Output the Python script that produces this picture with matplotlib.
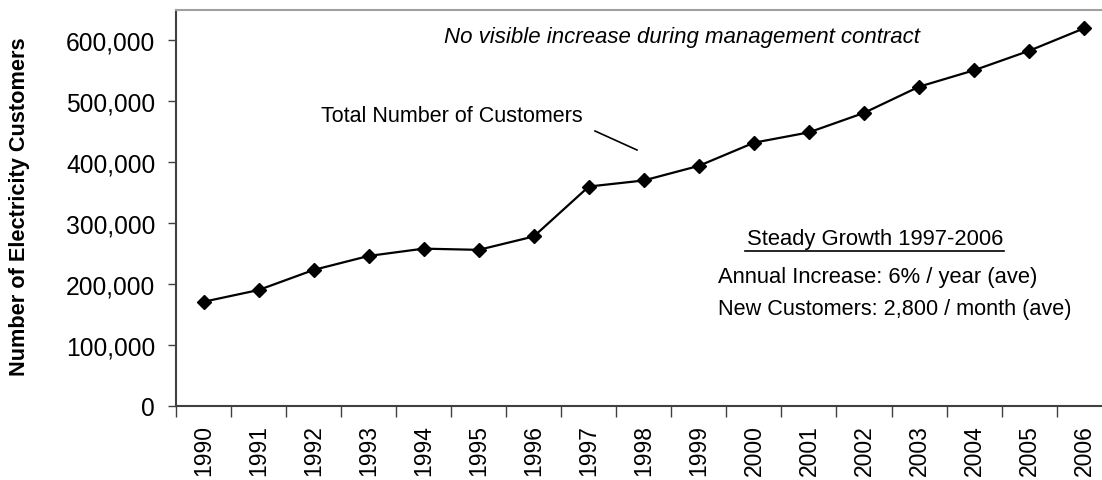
import matplotlib
matplotlib.use("Agg")
import matplotlib.pyplot as plt
import numpy as np
from matplotlib.ticker import FuncFormatter, FixedLocator
from matplotlib.lines import Line2D

years = [1990, 1991, 1992, 1993, 1994, 1995, 1996, 1997, 1998,
         1999, 2000, 2001, 2002, 2003, 2004, 2005, 2006]
customers = [170700, 190000, 223000, 246000, 258000, 256000, 278000, 360000, 370000,
             394000, 432000, 449000, 481000, 524000, 551000, 583000, 620000]
y_ticks = [0, 100000, 200000, 300000, 400000, 500000, 600000]

W, H = 1102, 481


def fx(px):
    return px / W


def fy(py):
    return 1 - py / H


def main():
    plt.rcParams['font.family'] = ['Liberation Sans', 'DejaVu Sans']
    fig = plt.figure(figsize=(W / 100, H / 100), dpi=100)
    ax = fig.add_axes([fx(176), fy(406.7), fx(1111.7) - fx(176), fy(11) - fy(406.7)])

    x = np.arange(len(years))
    ax.plot(x, customers, color='black', linewidth=1.6, marker='D', markersize=7.5,
            markerfacecolor='black', markeredgecolor='black')

    ax.set_xlim(-0.5, len(years) - 0.5)
    ax.set_ylim(0, 650000)

    ax.set_yticks(y_ticks)
    ax.yaxis.set_major_formatter(FuncFormatter(lambda v, p: '{:,.0f}'.format(v)))
    ax.tick_params(axis='y', direction='out', length=6, width=1, labelsize=17.7, pad=9,
                   color='#404040')

    ax.set_xticks(x)
    ax.set_xticklabels([str(y) for y in years], rotation=90, fontsize=16.5)
    ax.tick_params(axis='x', which='major', length=0, pad=13)
    ax.xaxis.set_minor_locator(FixedLocator(np.arange(-0.5, len(years), 1.0)))
    ax.tick_params(axis='x', which='minor', direction='out', length=8, width=1,
                   color='#404040')

    ax.spines['right'].set_visible(False)
    ax.spines['top'].set_color('#a0a0a0')
    ax.spines['top'].set_linewidth(1.5)
    ax.spines['left'].set_color('#404040')
    ax.spines['left'].set_linewidth(1.5)
    ax.spines['bottom'].set_color('#404040')
    ax.spines['bottom'].set_linewidth(1.5)

    fig.text(fx(20), fy(207), 'Number of Electricity Customers', rotation=90,
             fontsize=15.7, fontweight='bold', ha='center', va='center')

    fig.text(fx(682), fy(38), 'No visible increase during management contract',
             fontsize=16, style='italic', ha='center', va='center')
    fig.text(fx(451.5), fy(117), 'Total Number of Customers', fontsize=15.5,
             ha='center', va='center')
    fig.add_artist(Line2D([fx(595), fx(637)], [fy(132), fy(151)], color='black',
                          linewidth=1.2, transform=fig.transFigure))

    fig.text(fx(875), fy(240), 'Steady Growth 1997-2006', fontsize=15.8,
             ha='center', va='center')
    fig.add_artist(Line2D([fx(745), fx(1004)], [fy(252), fy(252)], color='black',
                          linewidth=1.2, transform=fig.transFigure))
    fig.text(fx(717.7), fy(277.7), 'Annual Increase: 6% / year (ave)', fontsize=15.8,
             ha='left', va='center')
    fig.text(fx(717.7), fy(310), 'New Customers: 2,800 / month (ave)', fontsize=15.6,
             ha='left', va='center')

    fig.savefig('out.png', dpi=100)


if __name__ == '__main__':
    main()
